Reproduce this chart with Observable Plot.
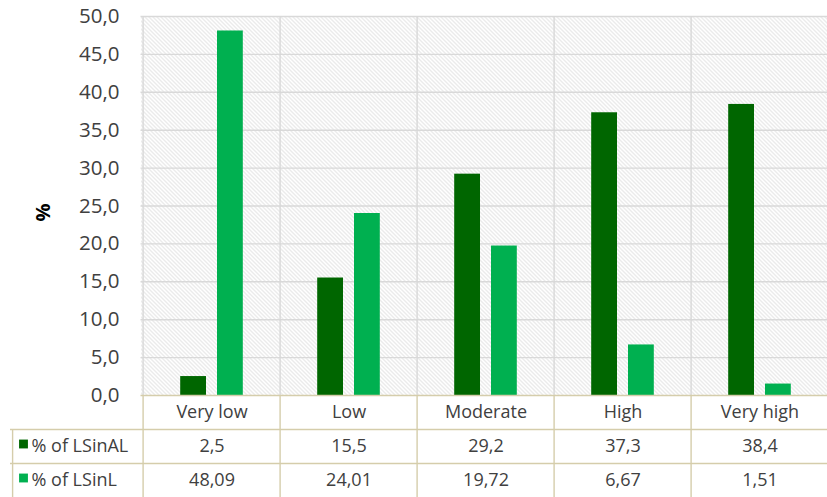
<!DOCTYPE html>
<html>
<head>
<meta charset="utf-8">
<script src="https://cdn.jsdelivr.net/npm/d3@7"></script>
<script src="https://cdn.jsdelivr.net/npm/@observablehq/plot@0.6"></script>
<style>
  html, body { margin: 0; padding: 0; background: white; }
  #chart { width: 827px; height: 497px; overflow: hidden; }
</style>
</head>
<body>
<div id="chart"></div>
<script>
const categories = ["Very low", "Low", "Moderate", "High", "Very high"];
const seriesNames = ["% of LSinAL", "% of LSinL"];
const valuesAL = [2.5, 15.5, 29.2, 37.3, 38.4];
const valuesL = [48.09, 24.01, 19.72, 6.67, 1.51];
const yTicks = [0, 5, 10, 15, 20, 25, 30, 35, 40, 45, 50];

const colorAL = "#006600";
const colorL = "#00B050";
const gridColor = "#d9d9d9";
const tableColor = "#d5cdab";
const textColor = "#404040";

const data = categories.map((c, i) => ({category: c, AL: valuesAL[i], L: valuesL[i]}));
const fmt = v => String(v).replace(".", ",");

const W = 827, H = 497;
const pLeft = 140.5, pRight = 829.5, pTop = 16, pBottom = 395;
const bw = (pRight - pLeft) / categories.length;
const half = bw / 2;
const barW = 26.6, outer = 37.2;

const tableFont = {fontSize: 18, fill: textColor, letterSpacing: "0.35px", lineAnchor: "middle"};

const chart = Plot.plot({
  width: W,
  height: H,
  marginLeft: pLeft,
  marginTop: pTop,
  marginBottom: H - pBottom,
  marginRight: 0,
  style: {fontFamily: "'Open Sans', sans-serif", color: textColor, background: "white", overflow: "visible"},
  x: {domain: categories, range: [pLeft, pRight], padding: 0, axis: null},
  y: {domain: [0, 50], axis: null},
  marks: [
    Plot.frame({fill: "url(#hatch)", stroke: null}),
    Plot.gridY(yTicks.filter(t => t > 0), {stroke: gridColor, strokeOpacity: 1, strokeWidth: 1.4}),
    Plot.ruleX(categories, {x: d => d, dx: -half, stroke: gridColor, strokeWidth: 1.4}),
    Plot.barY(data, {x: "category", y: "AL", fill: colorAL, insetLeft: outer, insetRight: bw - outer - barW}),
    Plot.barY(data, {x: "category", y: "L", fill: colorL, insetLeft: bw - outer - barW, insetRight: outer}),
    Plot.axisY({ticks: yTicks, tickSize: 0, tickPadding: 21.5, tickFormat: d => d.toFixed(1).replace(".", ","), fontSize: 20.5, label: null, fill: textColor}),
    Plot.text(["%"], {frameAnchor: "left", textAnchor: "middle", lineAnchor: "middle", dx: -97, dy: 6.5, rotate: -90, fontWeight: "bold", fontSize: 20, fill: "#000"}),
    // table borders
    Plot.ruleY([0], {stroke: tableColor, strokeWidth: 1.4}),
    Plot.ruleY([0], {dy: 34, insetLeft: -(pLeft - 10), stroke: tableColor, strokeWidth: 1.4}),
    Plot.ruleY([0], {dy: 68, insetLeft: -(pLeft - 10), stroke: tableColor, strokeWidth: 1.4}),
    Plot.ruleX(categories, {x: d => d, dx: -half, insetTop: pBottom - pTop, insetBottom: -(H - pBottom), stroke: tableColor, strokeWidth: 1.4}),
    Plot.ruleX([categories[0]], {x: d => d, dx: -half - (pLeft - 10), insetTop: pBottom - pTop + 34, insetBottom: -(H - pBottom), stroke: tableColor, strokeWidth: 1.4}),
    // table header
    Plot.text(categories, {x: d => d, frameAnchor: "bottom", dy: 16.5, ...tableFont}),
    // table values
    Plot.text(data, {x: "category", text: d => fmt(d.AL), frameAnchor: "bottom", dy: 51, ...tableFont}),
    Plot.text(data, {x: "category", text: d => fmt(d.L), frameAnchor: "bottom", dy: 85, ...tableFont}),
    // row labels with legend swatches
    Plot.dot([seriesNames[0]], {frameAnchor: "bottom-left", dx: -(pLeft - 23), dy: 48.5, symbol: "square", r: 5, fill: colorAL, stroke: null}),
    Plot.dot([seriesNames[1]], {frameAnchor: "bottom-left", dx: -(pLeft - 23), dy: 82.5, symbol: "square", r: 5, fill: colorL, stroke: null}),
    Plot.text([seriesNames[0]], {text: d => d, frameAnchor: "bottom-left", dx: -(pLeft - 31), dy: 51, textAnchor: "start", ...tableFont}),
    Plot.text([seriesNames[1]], {text: d => d, frameAnchor: "bottom-left", dx: -(pLeft - 31), dy: 85, textAnchor: "start", ...tableFont})
  ]
});

// hatch pattern definition used by the frame fill
const svg = d3.select(chart);
const defs = svg.insert("defs", ":first-child");
const pat = defs.append("pattern")
  .attr("id", "hatch")
  .attr("patternUnits", "userSpaceOnUse")
  .attr("width", 4).attr("height", 4);
pat.append("rect").attr("width", 4).attr("height", 4).attr("fill", "white");
pat.append("path")
  .attr("d", "M-1,-1L5,5M-1,3L1,5M3,-1L5,1")
  .attr("stroke", "#d2d2d2")
  .attr("stroke-width", 0.9);

document.getElementById("chart").appendChild(chart);
</script>
</body>
</html>
